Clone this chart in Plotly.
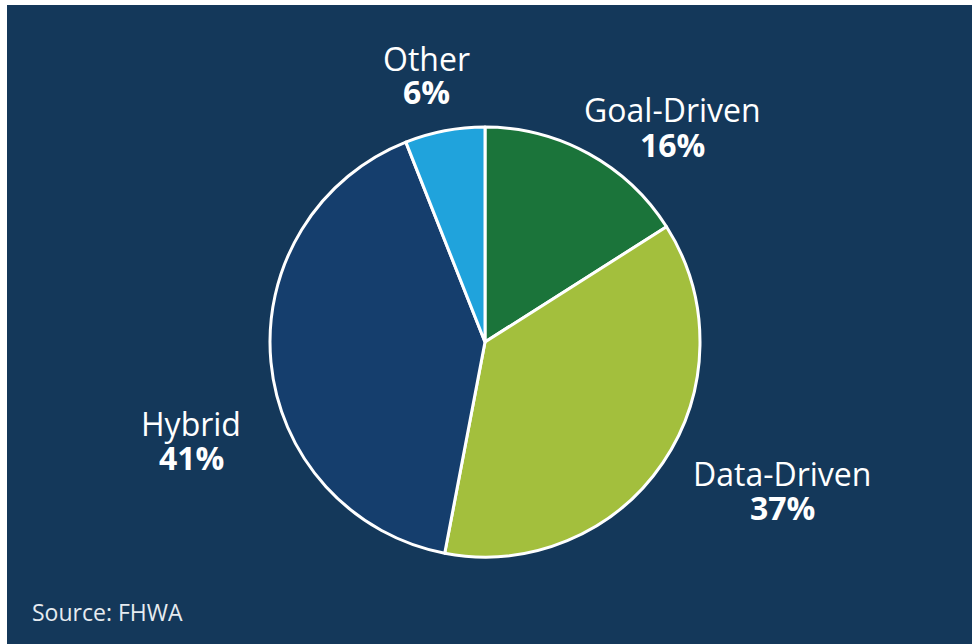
import plotly.graph_objects as go

# Share of approaches
categories = ["Goal-Driven", "Data-Driven", "Hybrid", "Other"]
shares = [16, 37, 41, 6]
slice_colors = ["#1b743a", "#a3bf3d", "#153e6d", "#20a3dc"]

W, H = 972, 644
NAVY = "#14385a"
FONT = "Open Sans, Noto Sans, sans-serif"

# label anchor points (pixel space): x centre, name line y, percent line y
label_px = {
    "Goal-Driven": (672, 110, 144),
    "Data-Driven": (782, 473, 507),
    "Hybrid": (191, 423, 458),
    "Other": (426, 59, 92),
}

# pie centre and radius in pixels
cx, cy, r = 485, 342, 215

fig = go.Figure(
    go.Pie(
        labels=categories,
        values=shares,
        sort=False,
        direction="clockwise",
        rotation=0,
        marker=dict(colors=slice_colors, line=dict(color="white", width=3)),
        textinfo="none",
        hoverinfo="label+percent",
        domain=dict(
            x=[(cx - r) / W, (cx + r) / W],
            y=[1 - (cy + r) / H, 1 - (cy - r) / H],
        ),
        showlegend=False,
    )
)


def px_ann(x, y, text, size, anchor="center", color="white"):
    return dict(
        x=x / W,
        y=1 - y / H,
        xref="paper",
        yref="paper",
        text=text,
        showarrow=False,
        font=dict(family=FONT, size=size, color=color),
        xanchor=anchor,
        yanchor="middle",
    )


annotations = []
for name, val in zip(categories, shares):
    x, y_name, y_pct = label_px[name]
    annotations.append(px_ann(x, y_name, name, 32))
    annotations.append(px_ann(x, y_pct, f"<b>{val}%</b>", 32))

annotations.append(px_ann(30, 612, "Source: FHWA", 23, anchor="left", color="#e6ebf0"))

fig.update_layout(
    width=W,
    height=H,
    margin=dict(l=0, r=0, t=0, b=0),
    paper_bgcolor="white",
    plot_bgcolor="white",
    shapes=[
        dict(
            type="rect",
            xref="paper",
            yref="paper",
            x0=7 / W,
            x1=1,
            y0=0,
            y1=1 - 5 / H,
            fillcolor=NAVY,
            line=dict(width=0),
            layer="below",
        )
    ],
    annotations=annotations,
)

fig.write_html("out.html")
